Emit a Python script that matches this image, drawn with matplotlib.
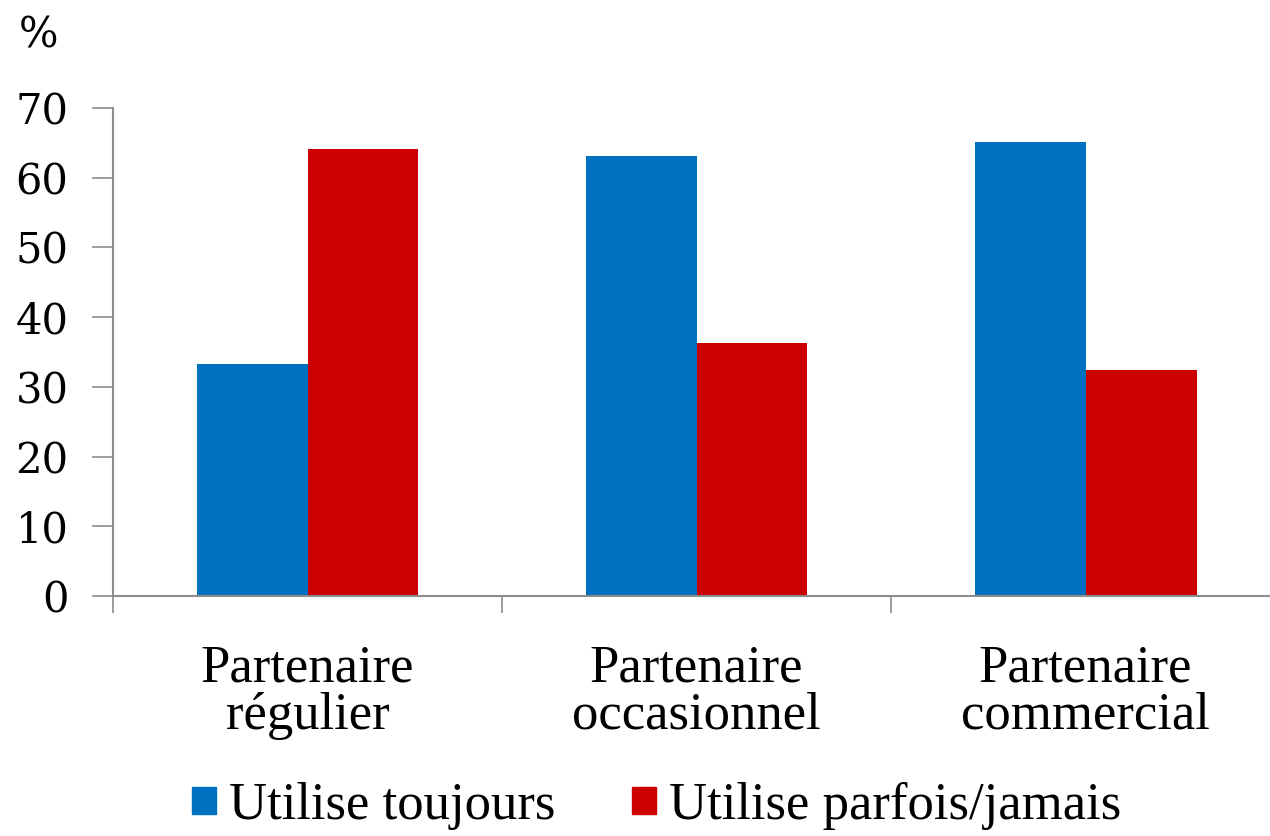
import matplotlib.pyplot as plt
import numpy as np
from matplotlib.patches import Patch

categories = ["Partenaire\nrégulier", "Partenaire\noccasionnel", "Partenaire\ncommercial"]
toujours = [33.3, 63.1, 65.1]
parfois = [64.1, 36.3, 32.4]
series_names = ["Utilise toujours", "Utilise parfois/jamais"]

blue = '#0070C0'
red = '#CC0000'
grey = '#8C8C8C'

fig = plt.figure(figsize=(12.7, 8.36), dpi=100)
ax = fig.add_axes([0.089, 0.287, 0.919, 0.584])

x = np.arange(len(categories))
w = 0.285
ax.bar(x - w/2, toujours, width=w, color=blue, edgecolor='none')
ax.bar(x + w/2, parfois, width=w, color=red, edgecolor='none')

ax.set_xlim(-0.5, 2.5)
ax.set_ylim(0, 70)
ax.set_yticks(np.arange(0, 71, 10))
ax.set_yticklabels([str(v) for v in range(0, 71, 10)], fontfamily='DejaVu Serif', fontsize=30)

# category separators as ticks, labels at centers
ax.set_xticks([-0.5, 0.5, 1.5, 2.5])
ax.set_xticklabels([])
ax.set_xticks(x, minor=True)
ax.set_xticklabels(categories, minor=True, fontfamily='Liberation Serif', fontsize=38, linespacing=0.98)
ax.tick_params(axis='x', which='minor', length=0, pad=35)
ax.tick_params(axis='x', which='major', length=12, width=1.2, color=grey, direction='out')
ax.tick_params(axis='y', length=15, width=1.2, color=grey, direction='out', pad=17)

for s in ['top', 'right']:
    ax.spines[s].set_visible(False)
for s in ['left', 'bottom']:
    ax.spines[s].set_color(grey)
    ax.spines[s].set_linewidth(1.5)

fig.text(0.015, 0.958, '%', fontfamily='DejaVu Serif', fontsize=30, va='center')

handles = [Patch(color=blue), Patch(color=red)]
leg = fig.legend(handles, series_names, loc='lower center', bbox_to_anchor=(0.517, -0.05),
                 ncol=2, frameon=False, prop={'family': 'Liberation Serif', 'size': 38},
                 handlelength=0.45, handleheight=0.4, handletextpad=0.25, columnspacing=1.45)

fig.savefig('out.png', dpi=100)
